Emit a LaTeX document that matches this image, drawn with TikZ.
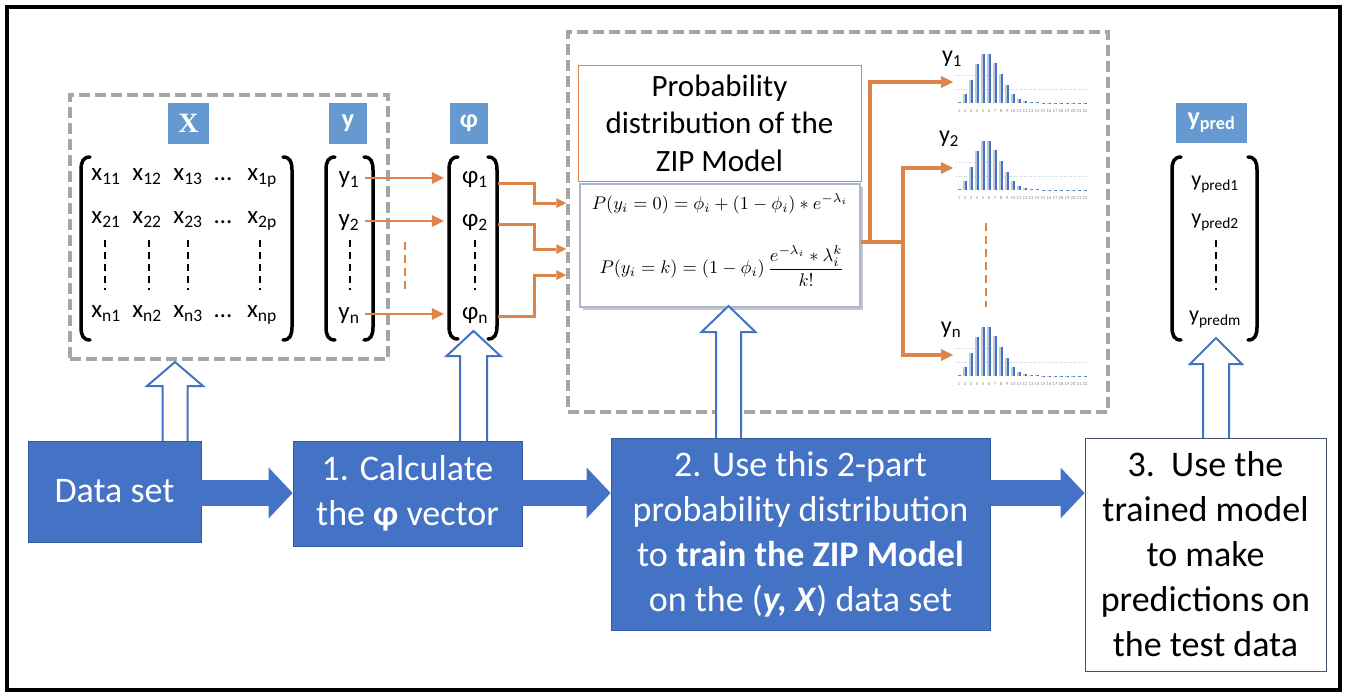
\documentclass[tikz,border=0pt]{standalone}
\usepackage{amsmath}
\usepackage{fontspec}
\setmainfont{Carlito}
\newfontfamily\serifx{Liberation Serif}
\usetikzlibrary{arrows.meta,calc}
\definecolor{boxblue}{HTML}{4472C4}
\definecolor{lblue}{HTML}{6699D0}
\definecolor{zorange}{HTML}{DD8449}
\definecolor{dgray}{HTML}{A6A6A6}
\definecolor{barlight}{HTML}{BFCBDD}
\definecolor{gridc}{HTML}{C3CEE0}
\definecolor{fbord}{HTML}{A9B8CF}
\definecolor{s3bord}{HTML}{44546A}
\newcommand{\fsz}[2]{\fontsize{#1}{#2}\selectfont}
\newcommand{\zlbrk}[3]{\draw[brk] (#1+9,#2) .. controls (#1+2,#2) and (#1,#2+5) .. (#1,#2+13) -- (#1,#3-13) .. controls (#1,#3-5) and (#1+2,#3) .. (#1+9,#3);}
\newcommand{\zrbrk}[3]{\draw[brk] (#1-9,#2) .. controls (#1-2,#2) and (#1,#2+5) .. (#1,#2+13) -- (#1,#3-13) .. controls (#1,#3-5) and (#1-2,#3) .. (#1-9,#3);}
\newcommand{\zharrow}[6]{\draw[harrow] (#1-#4,#2) -- (#1-#4,#3+#6) -- (#1-#5,#3+#6) -- (#1,#3) -- (#1+#5,#3+#6) -- (#1+#4,#3+#6) -- (#1+#4,#2);}
\newcommand{\zhist}[2]{%
  \draw[gridc, line width=0.7pt, dash pattern=on 1pt off 1.5pt] (#1-3,#2-14) -- (#1+128,#2-14);
  \draw[gridc, line width=0.7pt, dash pattern=on 1pt off 1.5pt] (#1-3,#2-28) -- (#1+40,#2-28);
  \foreach \h [count=\i] in {1,9,23,39,49,49,40,29,18,9,4,2,1,.6,.4,.3,.3,.2,.2,.2,.2,.2} {
    \fill[barlight] (#1+6*\i-7.8,#2) rectangle ++(2,-\h);
    \fill[boxblue] (#1+6*\i-6,#2) rectangle ++(1.6,-\h);
    \node[font=\fsz{4.5}{5}, inner sep=0, text=gray] at (#1+6*\i-6,#2+8) {\i};
  }%
}
\begin{document}
\begin{tikzpicture}[x=1pt,y=-1pt,
  dbox/.style={draw=dgray, line width=3.5pt, dash pattern=on 11pt off 5pt, inner sep=0},
  lab/.style={fill=lblue, text=white, inner sep=0, minimum width=38pt, minimum height=41pt, font=\bfseries\fsz{26}{30}},
  ent/.style={inner sep=0, text height=15pt, text depth=4pt, font=\fsz{25}{30}},
  pent/.style={inner sep=0, text height=14pt, text depth=5pt, font=\fsz{22}{26}},
  brk/.style={line width=3.5pt, line cap=round},
  vd/.style={line width=2pt, dash pattern=on 7pt off 5pt},
  od/.style={draw=zorange, line width=2pt, dash pattern=on 8pt off 5pt},
  oarr/.style={draw=zorange, line width=2.6pt, -{Triangle[length=12pt,width=12pt,line width=0pt]}},
  ophi/.style={draw=zorange, line width=3pt, -{Triangle[length=10pt,width=10pt,line width=0pt]}},
  othick/.style={draw=zorange, line width=3.5pt},
  oharr/.style={draw=zorange, line width=3.5pt, -{Triangle[length=12pt,width=12pt,line width=0pt]}},
  bbox/.style={fill=boxblue, draw=boxblue!80!black, line width=0.8pt, text=white, align=center, inner sep=0, font=\fsz{36}{45}},
  wbox/.style={fill=white, draw=s3bord, line width=1pt, text=black, align=center, inner sep=0, font=\fsz{36}{45}},
  fat/.style={draw=boxblue, line width=26pt, -{Triangle[length=24pt,width=51pt,line width=0pt]}},
  harrow/.style={draw=boxblue, line width=2pt, fill=white, line join=miter},
  hy/.style={font=\fsz{24}{28}, inner sep=0},
  fml/.style={inner sep=0, font=\normalsize}
]
\useasboundingbox (0,0) rectangle (1347,699);
\fill[white] (0,0) rectangle (1347,699);

% dashed group boxes
\node[dbox, minimum width=318pt, minimum height=264pt] (db1) at (229,227) {};
\node[dbox, minimum width=540pt, minimum height=380pt] (db2) at (838,222) {};

% header labels
\node[lab, minimum width=41pt, font=\serifx\bfseries\fsz{28}{30}] (lX) at (188.5,123.5) {X};
\node[lab] (ly) at (348,123.5) {y};
\node[lab] (lphi) at (469,123.5) {φ};
\node[lab, minimum width=71pt, minimum height=40pt] (lyp) at (1211.5,123) {y\textsubscript{pred}};

% X matrix
\foreach \r/\yy in {1/175, 2/218, n/312} {
  \foreach \c/\xx in {1/106, 2/147, 3/188} {
    \node[ent] (x\r\c) at (\xx,\yy) {x\textsubscript{\r\c}};
  }
  \node[ent] (xd\r) at (223,\yy) {…};
  \node[ent] (x\r-p) at (262,\yy) {x\textsubscript{\r p}};
}
% y vector
\node[ent] (y1) at (349,178) {y\textsubscript{1}};
\node[ent] (y2) at (349,221) {y\textsubscript{2}};
\node[ent] (yn) at (349,314) {y\textsubscript{n}};
% phi vector
\node[ent] (p1) at (475,178) {φ\textsubscript{1}};
\node[ent] (p2) at (475,221) {φ\textsubscript{2}};
\node[ent] (pn) at (475,314) {φ\textsubscript{n}};
% y_pred vector
\node[pent] (yp1) at (1215,182) {y\textsubscript{pred1}};
\node[pent] (yp2) at (1215,220) {y\textsubscript{pred2}};
\node[pent] (ypm) at (1215,317) {y\textsubscript{predm}};

% vertical dashes
\foreach \xx in {105,149,188,260,350,475,1216} \draw[vd] (\xx,240) -- (\xx,290);

% brackets
\zlbrk{81}{157}{340}\zrbrk{292}{157}{340}
\zlbrk{326}{157}{340}\zrbrk{373}{157}{340}
\zlbrk{449}{157}{339}\zrbrk{497}{157}{339}
\zlbrk{1172}{157}{340}\zrbrk{1257}{157}{340}

% y -> phi arrows
\draw[oarr] ([xshift=5pt]y1.east) -- ([xshift=-18pt]p1.west);
\draw[oarr] ([xshift=5pt]y2.east) -- ([xshift=-18pt]p2.west);
\draw[oarr] ([xshift=5pt]yn.east) -- ([xshift=-18pt]pn.west);
\draw[od] (405,242) -- (405,292);

% title and formula boxes
\node[draw=zorange, line width=1pt, fill=white, inner sep=0, minimum width=283pt, minimum height=116pt, align=center, font=\fsz{31}{37.5}] (tb) at (719.5,123) {Probability\\distribution of the\\ZIP Model};
\fill[gray!45] (583,187) rectangle (863,310);
\node[draw=fbord, line width=2pt, fill=white, inner sep=0, minimum width=280pt, minimum height=123pt] (fb) at (720,245.5) {};
\node[fml] (f1) at (720,204) {\scalebox{1.83}{$P(y_i=0)=\phi_i+(1-\phi_i)*e^{-\lambda_i}$}};
\node[fml] (f2) at (722,266) {\scalebox{1.83}{$P(y_i=k)=(1-\phi_i)\,\dfrac{e^{-\lambda_i}*\lambda_i^k}{k!}$}};

% phi -> formula box
\coordinate (t1) at (db2.west |- 0,203);
\coordinate (t2) at (db2.west |- 0,249);
\coordinate (t3) at (db2.west |- 0,275);
\draw[ophi] ([xshift=10pt,yshift=-5pt]p1.east) -- ++(36,0) |- (t1);
\draw[ophi] ([xshift=10pt,yshift=-3pt]p2.east) -- ++(36,0) |- (t2);
\draw[ophi] ([xshift=10pt,yshift=-2pt]pn.east) -- ++(36,0) |- (t3);

% histograms
\zhist{959}{103}
\zhist{959}{190}
\zhist{959}{376}
\node[hy] (hy1) at (952,59) {y\textsubscript{1}};
\node[hy] (hy2) at (949,139) {y\textsubscript{2}};
\node[hy] (hyn) at (951,330) {y\textsubscript{n}};
\draw[od] (986,223) -- (986,307);

% formula -> histograms
\coordinate (ja) at (870,242);
\coordinate (jb) at (903,242);
\coordinate (h1) at (953,82);
\coordinate (h2) at (953,168);
\coordinate (hn) at (953,355);
\draw[othick] ([yshift=3.5pt]fb.east) -- (jb);
\draw[oharr] (ja) |- (h1);
\draw[oharr] (jb) |- (h2);
\draw[oharr] (jb) |- (hn);

% hollow up arrows
\zharrow{175}{441}{362}{12.5}{28}{24}
\zharrow{473.5}{441}{331}{13.5}{27}{25}
\zharrow{728.5}{438}{306}{12.5}{27}{26}
\zharrow{1216}{438}{338}{13}{26}{26}

% bottom boxes
\node[bbox, minimum width=173pt, minimum height=101pt] (ds) at (114.5,491.5) {Data set};
\node[bbox, minimum width=229pt, minimum height=105pt] (s1) at (407.5,493.5) {1. Calculate\\the \textbf{φ} vector};
\node[bbox, minimum width=379pt, minimum height=192pt] (s2) at (800.5,534) {2. Use this 2-part\\probability distribution\\to \textbf{train the ZIP Model}\\on the (\textbf{\textit{y, X}}) data set};
\node[wbox, minimum width=241pt, minimum height=233pt] (s3) at (1205.5,554.5) {3.\ \ Use the\\trained model\\to make\\predictions on\\the test data};

% fat arrows
\draw[fat] (ds.east |- 0,493) -- (s1.west |- 0,493);
\draw[fat] (s1.east |- 0,493) -- (s2.west |- 0,493);
\draw[fat] (s2.east |- 0,493) -- (s3.west |- 0,493);

% outer frame
\draw[line width=4.5pt] (7,7) rectangle (1340,690);
\end{tikzpicture}
\end{document}
